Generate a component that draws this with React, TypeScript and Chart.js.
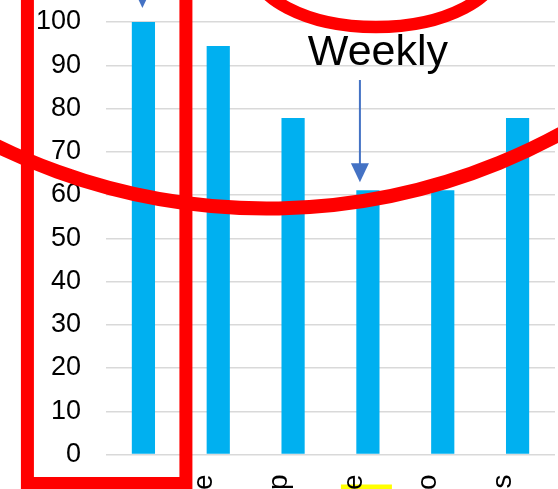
import React, { useEffect, useRef } from "react";
import { Chart, registerables } from "chart.js";

Chart.register(...registerables);

// ---- data ----
const categories = [
  "Used it daily.",
  "Used it once",
  "Used it for help",
  "Used it for one",
  "Went to",
  "None of this",
];
const values = [100, 94.44, 77.78, 61.11, 61.11, 77.78];
const yTickValues = [0, 10, 20, 30, 40, 50, 60, 70, 80, 90, 100];
const calloutText = "Weekly";
const calloutIndex = 3;
const boxedIndex = 0;
const highlightIndex = 3;

const W = 558;
const H = 620;
const VIEW_H = 489;
const FONT = "'Liberation Sans', Arial, Helvetica, sans-serif";
const BAR_COLOR = "#00B0F0";
const RED = "#FF0000";
const ARROW_BLUE = "#4472C4";

const annotations = {
  id: "annotations",
  beforeDraw(chart: any) {
    const ctx = chart.ctx;
    const xs = chart.scales.x;
    const area = chart.chartArea;
    const px = xs.getPixelForValue(highlightIndex);
    ctx.save();
    ctx.fillStyle = "#FFFF00";
    ctx.fillRect(px - 27, area.bottom + 30, 51, 20);
    ctx.restore();
  },
  afterDraw(chart: any) {
    const ctx = chart.ctx;
    const xs = chart.scales.x;
    const ys = chart.scales.y;
    const area = chart.chartArea;
    ctx.save();

    // big red ellipse
    ctx.strokeStyle = RED;
    ctx.lineWidth = 14;
    ctx.beginPath();
    ctx.ellipse(267.5, -376.5, 600, 585, -0.0196, 0, Math.PI * 2);
    ctx.stroke();

    // small red ellipse at top
    ctx.lineWidth = 12.5;
    ctx.beginPath();
    ctx.ellipse(376, -38, 125, 65, 0, 0, Math.PI * 2);
    ctx.stroke();

    // red rectangle around first bar
    const p0 = xs.getPixelForValue(boxedIndex);
    ctx.lineWidth = 13;
    ctx.strokeRect(p0 - 116, -40, 158.5, area.bottom + 29 + 40);

    // blue arrow above first bar
    ctx.fillStyle = ARROW_BLUE;
    ctx.strokeStyle = ARROW_BLUE;
    const top0 = ys.getPixelForValue(values[boxedIndex]);
    const a0x = p0 - 1;
    const a0tip = top0 - 14;
    ctx.lineWidth = 2;
    ctx.beginPath();
    ctx.moveTo(a0x, a0tip - 60);
    ctx.lineTo(a0x, a0tip - 18);
    ctx.stroke();
    ctx.beginPath();
    ctx.moveTo(a0x - 9, a0tip - 19);
    ctx.lineTo(a0x + 9, a0tip - 19);
    ctx.lineTo(a0x, a0tip);
    ctx.closePath();
    ctx.fill();

    // Weekly callout arrow
    const p3 = xs.getPixelForValue(calloutIndex);
    const top3 = ys.getPixelForValue(values[calloutIndex]);
    const ax = p3 - 8;
    const tip = top3 - 8;
    ctx.beginPath();
    ctx.moveTo(ax, 80);
    ctx.lineTo(ax, tip - 18);
    ctx.stroke();
    ctx.beginPath();
    ctx.moveTo(ax - 9, tip - 19);
    ctx.lineTo(ax + 9, tip - 19);
    ctx.lineTo(ax, tip);
    ctx.closePath();
    ctx.fill();

    // Weekly text
    ctx.fillStyle = "#000000";
    ctx.font = `43px ${FONT}`;
    ctx.textAlign = "center";
    ctx.textBaseline = "alphabetic";
    ctx.fillText(calloutText, p3 + 10, 65);

    ctx.restore();
  },
};

export default function App() {
  const ref = useRef<HTMLCanvasElement | null>(null);

  useEffect(() => {
    if (!ref.current) return;
    const chart = new Chart(ref.current, {
      type: "bar",
      data: {
        labels: categories,
        datasets: [
          {
            data: values,
            backgroundColor: BAR_COLOR,
            borderWidth: 0,
            categoryPercentage: 1,
            barPercentage: 0.31,
          },
        ],
      },
      options: {
        animation: false,
        responsive: false,
        devicePixelRatio: 1,
        layout: { padding: { top: 22, right: 3, left: 0, bottom: 0 } },
        plugins: {
          legend: { display: false },
          tooltip: { enabled: false },
        },
        scales: {
          x: {
            grid: { display: false, drawTicks: false },
            border: { display: false },
            ticks: {
              autoSkip: false,
              minRotation: 90,
              maxRotation: 90,
              padding: 20,
              labelOffset: -14,
              color: "#000000",
              font: { family: FONT, size: 28 },
            },
            afterFit: (s: any) => {
              s.height = H - 454.5;
              s.paddingLeft = 0;
              s.paddingRight = 0;
            },
          },
          y: {
            min: 0,
            max: 100,
            afterBuildTicks: (s: any) => {
              s.ticks = yTickValues.map((v) => ({ value: v }));
            },
            ticks: {
              padding: 25,
              color: "#000000",
              font: { family: FONT, size: 27 },
            },
            grid: { color: "#D9D9D9", lineWidth: 1.5, drawTicks: false },
            border: { display: false },
            afterFit: (s: any) => {
              s.width = 106;
              s.paddingTop = 0;
              s.paddingBottom = 0;
            },
          },
        },
      },
      plugins: [annotations],
    });
    return () => chart.destroy();
  }, []);

  return (
    <div
      style={{
        position: "fixed",
        left: 0,
        top: 0,
        width: W,
        height: VIEW_H,
        overflow: "hidden",
        background: "#ffffff",
      }}
    >
      <canvas
        ref={ref}
        width={W}
        height={H}
        style={{ display: "block", width: W, height: H }}
      />
    </div>
  );
}
